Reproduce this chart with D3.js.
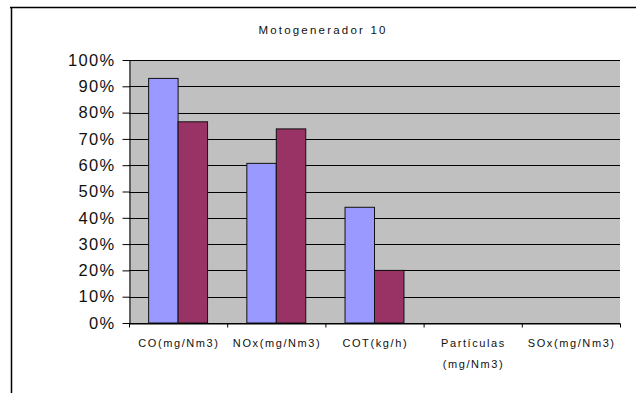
<!DOCTYPE html>
<html>
<head>
<meta charset="utf-8">
<script src="https://cdn.jsdelivr.net/npm/d3@7"></script>
<style>
	body { margin: 0; background: #fff; }
	text { font-family: Arial, "Liberation Sans", sans-serif; fill: #111; }
</style>
</head>
<body>
<svg id="chart" width="636" height="393"></svg>
<script>
// datos
var titulo = "Motogenerador 10";
var categorias = ["CO(mg/Nm3)", "NOx(mg/Nm3)", "COT(kg/h)", "Partículas\n(mg/Nm3)", "SOx(mg/Nm3)"];
var serie1 = [0.93, 0.607, 0.44, null, null];
var serie2 = [0.765, 0.738, 0.20, null, null];
var yTicks = [0, 0.1, 0.2, 0.3, 0.4, 0.5, 0.6, 0.7, 0.8, 0.9, 1];

var svg = d3.select("#chart"),
	pLeft = 129,
	pRight = 620,
	pTop = 60,
	pBottom = 323;

// marco exterior
svg.append("line").attr("x1", 10).attr("x2", 636).attr("y1", 7.5).attr("y2", 7.5)
	.attr("stroke", "#000").attr("stroke-width", 1.5);
svg.append("line").attr("x1", 11.5).attr("x2", 11.5).attr("y1", 7).attr("y2", 393)
	.attr("stroke", "#000").attr("stroke-width", 1.5);

var x = d3.scaleBand().domain(categorias).range([pLeft, pRight]).padding(0);
var x1 = d3.scaleBand().domain(["s1", "s2"])
	.range([x.bandwidth() * 0.2, x.bandwidth() * 0.8]).padding(0);
var y = d3.scaleLinear().domain([0, 1]).range([pBottom, pTop]);

// fondo gris
svg.append("rect")
	.attr("x", pLeft).attr("y", pTop)
	.attr("width", pRight - pLeft).attr("height", pBottom - pTop)
	.attr("fill", "#c0c0c0");

// lineas de division
svg.append("g")
	.selectAll("line")
	.data(yTicks)
	.enter()
	.append("line")
	.attr("x1", pLeft).attr("x2", pRight)
	.attr("y1", function(d){ return Math.round(y(d)) + 0.5; })
	.attr("y2", function(d){ return Math.round(y(d)) + 0.5; })
	.attr("stroke", "#000");

// barras
var datos = [];
categorias.forEach(function(c, i) {
	if (serie1[i] != null) datos.push({cat: c, s: "s1", v: serie1[i]});
	if (serie2[i] != null) datos.push({cat: c, s: "s2", v: serie2[i]});
});
var color = {s1: "#9999ff", s2: "#993366"};

svg.append("g")
	.selectAll("rect")
	.data(datos)
	.enter()
	.append("rect")
	.attr("x", function(d){ return x(d.cat) + x1(d.s); })
	.attr("y", function(d){ return y(d.v); })
	.attr("width", x1.bandwidth())
	.attr("height", function(d){ return y(0) - y(d.v); })
	.attr("fill", function(d){ return color[d.s]; })
	.attr("stroke", "#111")
	.attr("stroke-width", 1);

// eje y
var ejeY = svg.append("g")
	.attr("transform", "translate(" + (pLeft + 0.5) + ",0)")
	.call(d3.axisLeft(y)
		.tickValues(yTicks)
		.tickFormat(d3.format(".0%"))
		.tickSize(7)
		.tickSizeOuter(0)
		.tickPadding(7));
ejeY.selectAll("text")
	.style("font-size", "16.5px")
	.style("letter-spacing", "1.3px")
	.attr("fill", "#333");
ejeY.select(".domain").attr("stroke", "#000");

// eje x con marcas entre categorias
var xBordes = d3.scaleLinear().domain([0, categorias.length]).range([pLeft, pRight]);
var ejeX = svg.append("g")
	.attr("transform", "translate(0," + (pBottom + 0.5) + ")")
	.call(d3.axisBottom(xBordes)
		.ticks(categorias.length)
		.tickFormat("")
		.tickSize(4)
		.tickSizeOuter(0));
ejeX.select(".domain").attr("stroke", "#000");

// etiquetas de categorias
var etiquetas = svg.append("g")
	.selectAll("text")
	.data(categorias)
	.enter()
	.append("text")
	.attr("text-anchor", "middle")
	.style("font-size", "11px")
	.style("letter-spacing", "1.6px");

etiquetas.each(function(d) {
	var t = d3.select(this);
	d.split("\n").forEach(function(linea, j) {
		t.append("tspan")
			.attr("x", x(d) + x.bandwidth() / 2 + 0.8)
			.attr("y", 347 + j * 21)
			.text(linea);
	});
});

// titulo
svg.append("text")
	.attr("x", 323)
	.attr("y", 34)
	.attr("text-anchor", "middle")
	.style("font-size", "11.5px")
	.style("letter-spacing", "2.2px")
	.text(titulo);
</script>
</body>
</html>
